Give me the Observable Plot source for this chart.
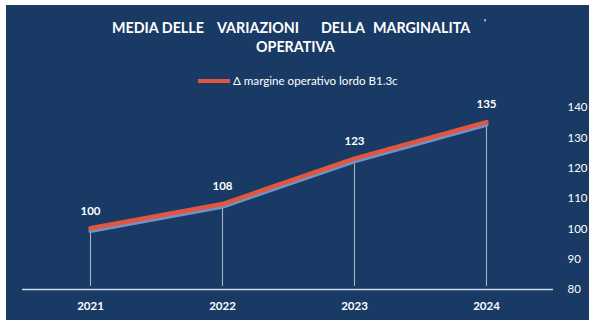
<!DOCTYPE html>
<html><head><meta charset="utf-8">
<script src="https://cdn.jsdelivr.net/npm/d3@7"></script>
<script src="https://cdn.jsdelivr.net/npm/@observablehq/plot@0.6"></script>
<style>
html,body{margin:0;padding:0;background:#fff;width:589px;height:320px;overflow:hidden;font-family:Lato,"Open Sans",sans-serif;}
#panel{position:absolute;left:6px;top:5px;width:583px;height:315px;background:#183a65;}
.t{position:absolute;color:#fff;font-weight:700;font-size:14.3px;line-height:1;white-space:pre;}
#legend{position:absolute;left:198px;top:74px;color:#fff;font-size:11.6px;line-height:14px;white-space:pre;}
#legend .sw{display:inline-block;width:32px;height:4px;background:#e0563e;vertical-align:middle;margin-right:3px;position:relative;top:-1px;}
#chart{position:absolute;left:0;top:95px;}
</style></head>
<body>
<div id="panel"></div>
<div class="t" style="left:112px;top:21px">MEDIA DELLE</div>
<div class="t" style="left:217px;top:21px">VARIAZIONI</div>
<div class="t" style="left:321px;top:21px">DELLA</div>
<div class="t" style="left:373px;top:21px">MARGINALITA</div>
<div class="t" style="left:484px;top:18px;font-size:9px">'</div>
<div class="t" style="left:256px;top:40px">OPERATIVA</div>
<div id="legend"><span class="sw"></span>Δ margine operativo lordo B1.3c</div>
<div id="chart"></div>
<script>
const years = ["2021", "2022", "2023", "2024"];
const values = [100, 108, 123, 135];
const yTicks = [80, 90, 100, 110, 120, 130, 140];
const seriesName = "Δ margine operativo lordo B1.3c";

const data = years.map((y, i) => ({year: y, value: values[i]}));

const plot = Plot.plot({
  width: 589,
  height: 225,
  marginLeft: 22,
  marginRight: 36,
  marginTop: 12,
  marginBottom: 31,
  style: {background: "transparent", color: "#fff", fontFamily: "Lato, 'Open Sans', sans-serif", fontSize: "11px", overflow: "visible"},
  x: {type: "band", domain: years, padding: 0, label: null},
  y: {domain: [80, 140], label: null},
  marks: [
    Plot.ruleX(data, {x: "year", y1: 81, y2: "value", stroke: "#d5dde8", strokeWidth: 1.1, strokeOpacity: 0.75}),
    Plot.ruleY([80], {stroke: "#cdd8ea", strokeWidth: 1.6}),
    Plot.line(data, {x: "year", y: "value", stroke: "#6f93c9", strokeWidth: 4, dy: 2.2, strokeLinejoin: "round", strokeLinecap: "round"}),
    Plot.line(data, {x: "year", y: "value", stroke: "#e0563e", strokeWidth: 4.5, dy: -0.5, strokeLinejoin: "round", strokeLinecap: "round"}),
    Plot.text(data, {x: "year", y: "value", text: d => String(d.value), dy: -18, fill: "#fff", fontWeight: 700, fontSize: 11.5}),
    Plot.axisX({anchor: "bottom", tickSize: 0, tickPadding: 12, fontWeight: 700, fontSize: 11.5, color: "#fff"}),
    Plot.axisY(yTicks, {anchor: "right", tickSize: 0, tickPadding: 14, fontSize: 11.5, color: "#fff"})
  ]
});
document.getElementById("chart").appendChild(plot);
</script>
</body></html>
